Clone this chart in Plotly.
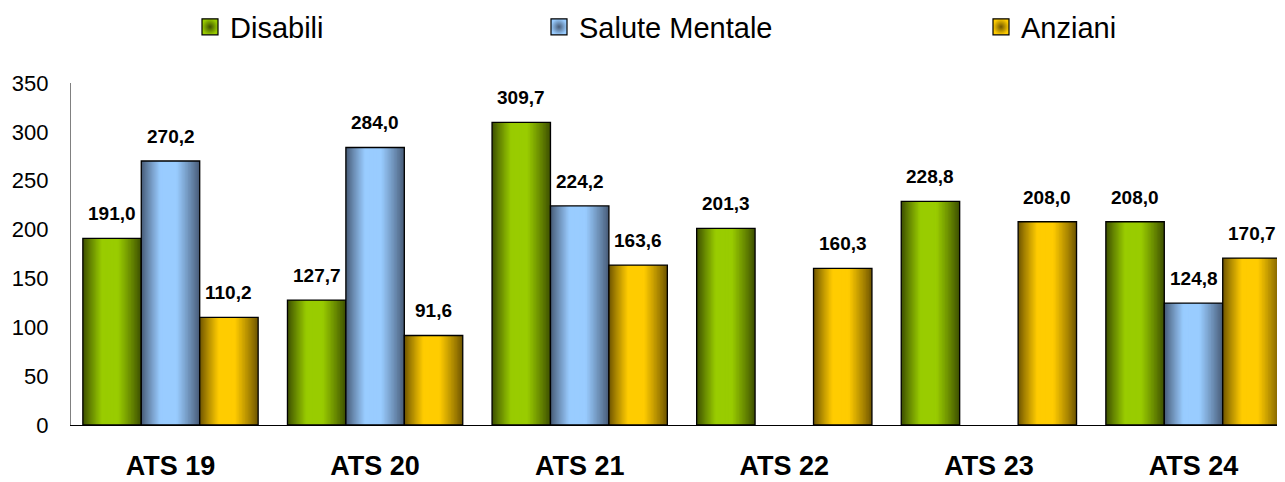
import plotly.graph_objects as go

# --- data ---
categories = ["ATS 19", "ATS 20", "ATS 21", "ATS 22", "ATS 23", "ATS 24"]
series_names = ["Disabili", "Salute Mentale", "Anziani"]
disabili = [191.0, 127.7, 309.7, 201.3, 228.8, 208.0]
salute_mentale = [270.2, 284.0, 224.2, None, None, 124.8]
anziani = [110.2, 91.6, 163.6, 160.3, 208.0, 170.7]
y_ticks = [0, 50, 100, 150, 200, 250, 300, 350]

FONT = "Liberation Sans, Arial, sans-serif"

# page puts the figure 8px in from the top-left, so the figure is 8px smaller
W, H = 1277, 474

# edge (dark) and centre (light) colour of each series' gradient
palette = [
    ((62, 80, 0), (153, 204, 0)),
    ((72, 92, 120), (153, 204, 255)),
    ((112, 86, 0), (255, 204, 0)),
]

BAR_W = 0.2856
N_LAYERS = 22
PEAK = 0.45  # where the light band sits across the bar


def mix(a, b, t):
    return "rgb(%d,%d,%d)" % tuple(round(a[i] + (b[i] - a[i]) * t) for i in range(3))


def fmt(v):
    return ("%.1f" % v).replace(".", ",")


x_pos = list(range(len(categories)))
all_series = [disabili, salute_mentale, anziani]

fig = go.Figure()

for j, values in enumerate(all_series):
    dark, light = palette[j]
    centre_off = (j - 1) * BAR_W
    # fake horizontal gradient: stacked, narrowing bars
    for k in range(N_LAYERS):
        t = k / N_LAYERS
        ease = min(1.0, t / 0.7) ** 0.9
        width = BAR_W * (1 - t)
        offset = centre_off - BAR_W / 2 + t * PEAK * BAR_W
        fig.add_trace(go.Bar(
            x=x_pos, y=values, width=width, offset=offset,
            marker=dict(color=mix(dark, light, ease), line=dict(width=0)),
            showlegend=False, hoverinfo="skip",
        ))
    # black outline on top
    fig.add_trace(go.Bar(
        x=x_pos, y=values, width=BAR_W, offset=centre_off - BAR_W / 2,
        marker=dict(color="rgba(0,0,0,0)", line=dict(color="black", width=1.3)),
        showlegend=False, name=series_names[j],
    ))
    # data labels
    for i, v in enumerate(values):
        if v is None:
            continue
        fig.add_annotation(
            x=i + centre_off, y=v, text="<b>%s</b>" % fmt(v),
            showarrow=False, yanchor="bottom", yshift=12,
            font=dict(family=FONT, size=19, color="black"),
        )

# legend entries (one legend per series so they can sit where the original puts them)
legend_x = [182, 531, 973]
legend_keys = ["legend", "legend2", "legend3"]
for j, name in enumerate(series_names):
    dark, light = palette[j]
    fig.add_trace(go.Scatter(
        x=[None], y=[None], mode="markers", name=name,
        marker=dict(symbol="square", size=16, color=mix(dark, light, 1.0),
                    gradient=dict(type="radial", color=mix(dark, light, 0.0)),
                    line=dict(color="black", width=1.2)),
        legend=legend_keys[j], showlegend=True,
    ))

legend_common = dict(
    orientation="h", xref="container", yref="container", yanchor="middle",
    y=1 - 19 / H, font=dict(family=FONT, size=29, color="black"),
    bgcolor="rgba(0,0,0,0)", itemsizing="trace",
)

fig.update_layout(
    width=W, height=H,
    margin=dict(l=63, r=0, t=75, b=57, autoexpand=False),
    paper_bgcolor="white", plot_bgcolor="white",
    barmode="overlay",
    showlegend=True,
    legend=dict(x=legend_x[0] / W, **legend_common),
    legend2=dict(x=legend_x[1] / W, **legend_common),
    legend3=dict(x=legend_x[2] / W, **legend_common),
    font=dict(family=FONT, color="black"),
)

fig.update_xaxes(
    range=[-0.4863, 5.4472], automargin=False,
    tickvals=x_pos, ticktext=["<b>%s</b>" % c for c in categories],
    tickfont=dict(family=FONT, size=27, color="black"),
    ticks="outside", ticklen=16, tickcolor="rgba(0,0,0,0)",
    showline=True, linecolor="black", linewidth=1.3,
    showgrid=False, zeroline=False,
)
fig.update_yaxes(
    range=[0, 350], tickvals=y_ticks, automargin=False,
    tickfont=dict(family=FONT, size=22, color="black"),
    ticks="outside", ticklen=17, tickcolor="rgba(0,0,0,0)",
    showline=True, linecolor="#808080", linewidth=1.3,
    showgrid=False, zeroline=False,
)

fig.write_html("out.html")
